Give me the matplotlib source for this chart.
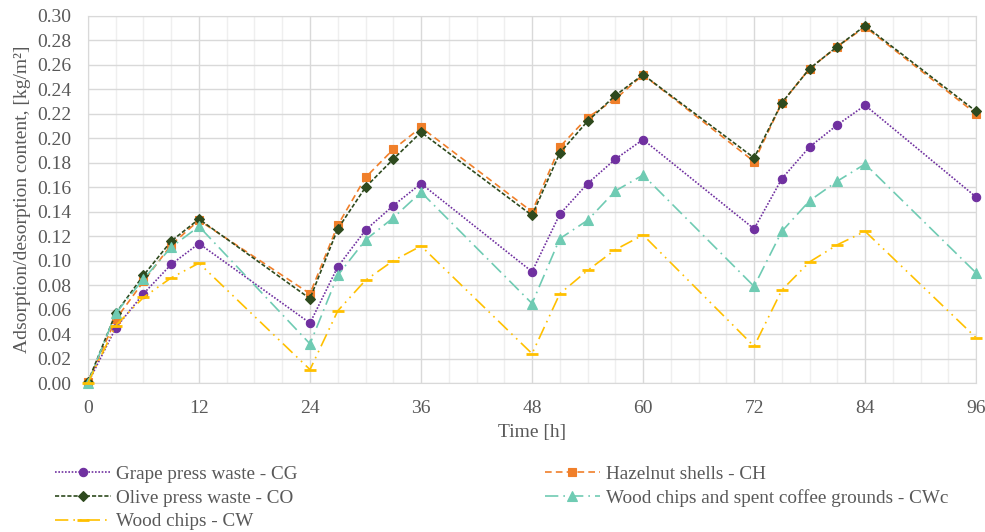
import numpy as np
import matplotlib
matplotlib.use('Agg')
from matplotlib import pyplot as plt
from matplotlib.ticker import MultipleLocator, FormatStrFormatter

plt.rcParams['font.family'] = ['Liberation Serif', 'DejaVu Serif']

time_h = [0, 3, 6, 9, 12, 24, 27, 30, 33, 36, 48, 51, 54, 57, 60, 72, 75, 78, 81, 84, 96]

cg = [0.000, 0.045, 0.073, 0.097, 0.114, 0.049, 0.095, 0.125, 0.145, 0.163, 0.091,
      0.138, 0.163, 0.183, 0.199, 0.126, 0.167, 0.193, 0.211, 0.227, 0.152]
ch = [0.001, 0.052, 0.083, 0.113, 0.133, 0.073, 0.129, 0.168, 0.191, 0.209, 0.140,
      0.193, 0.217, 0.232, 0.252, 0.181, 0.229, 0.257, 0.275, 0.291, 0.220]
co = [0.001, 0.057, 0.088, 0.116, 0.134, 0.069, 0.126, 0.160, 0.183, 0.205, 0.137,
      0.188, 0.214, 0.235, 0.252, 0.184, 0.229, 0.257, 0.275, 0.292, 0.222]
cwc = [0.000, 0.057, 0.085, 0.111, 0.128, 0.032, 0.088, 0.117, 0.135, 0.156, 0.065,
       0.118, 0.133, 0.157, 0.170, 0.079, 0.124, 0.149, 0.165, 0.179, 0.090]
cw = [0.000, 0.047, 0.070, 0.086, 0.098, 0.011, 0.059, 0.084, 0.100, 0.112, 0.024,
      0.073, 0.092, 0.109, 0.121, 0.030, 0.076, 0.099, 0.113, 0.124, 0.037]

text_col = '#595959'

fig = plt.figure(figsize=(9.85, 5.32), dpi=100)
ax = fig.add_axes([0.0893, 0.280, 0.9017, 0.690])

# series: (values, label, colour, linestyle, marker, marker size)
series = [
    (cg, 'Grape press waste - CG', '#7030A0', (0, (1, 1)), 'o', 6),
    (ch, 'Hazelnut shells - CH', '#F07F2A', (0, (4, 2.5)), 's', 6),
    (co, 'Olive press waste - CO', '#2E4A1E', (0, (2.5, 1.2)), 'D', 5),
    (cwc, 'Wood chips and spent coffee grounds - CWc', '#6FCBB3', (0, (8, 3, 1, 3)), '^', 7),
    (cw, 'Wood chips - CW', '#FFC000', (0, (8, 3, 1, 3, 1, 3)), '_', 8),
]

lines = {}
for vals, label, color, ls, mk, ms in series:
    ln, = ax.plot(time_h, vals, color=color, linestyle=ls, linewidth=1.2, marker=mk,
                  markersize=ms, markeredgewidth=2 if mk == '_' else 0.8, label=label,
                  clip_on=False, zorder=3)
    lines[label] = ln

ax.set_xlim(0, 96)
ax.set_ylim(0, 0.30)
ax.xaxis.set_major_locator(MultipleLocator(12))
ax.xaxis.set_minor_locator(MultipleLocator(3))
ax.yaxis.set_major_locator(MultipleLocator(0.02))
ax.yaxis.set_major_formatter(FormatStrFormatter('%.2f'))

ax.grid(which='major', axis='both', color='#D9D9D9', linewidth=1.0)
ax.grid(which='minor', axis='x', color='#EFEFEF', linewidth=1.0)
ax.set_axisbelow(True)
for s in ax.spines.values():
    s.set_color('#D9D9D9')
ax.tick_params(which='both', length=0, labelsize=14, colors=text_col)
ax.tick_params(axis='y', pad=12)
ax.tick_params(axis='x', pad=12)

ax.set_xlabel('Time [h]', fontsize=14, color=text_col, labelpad=5)
ax.set_ylabel('Adsorption/desorption content, [kg/m²]', fontsize=14, color=text_col, labelpad=4)

names = [s[1] for s in series]
left = [lines[names[0]], lines[names[2]], lines[names[4]]]
right = [lines[names[1]], lines[names[3]]]
kw = dict(loc='upper left', frameon=False, fontsize=13.8, handlelength=2.9,
          labelspacing=0.33, handletextpad=0.3, borderpad=0, borderaxespad=0,
          labelcolor=text_col)
fig.legend(handles=left, bbox_to_anchor=(0.056, 0.125), **kw)
fig.legend(handles=right, bbox_to_anchor=(0.553, 0.125), **kw)

fig.savefig('out.png', dpi=100)
